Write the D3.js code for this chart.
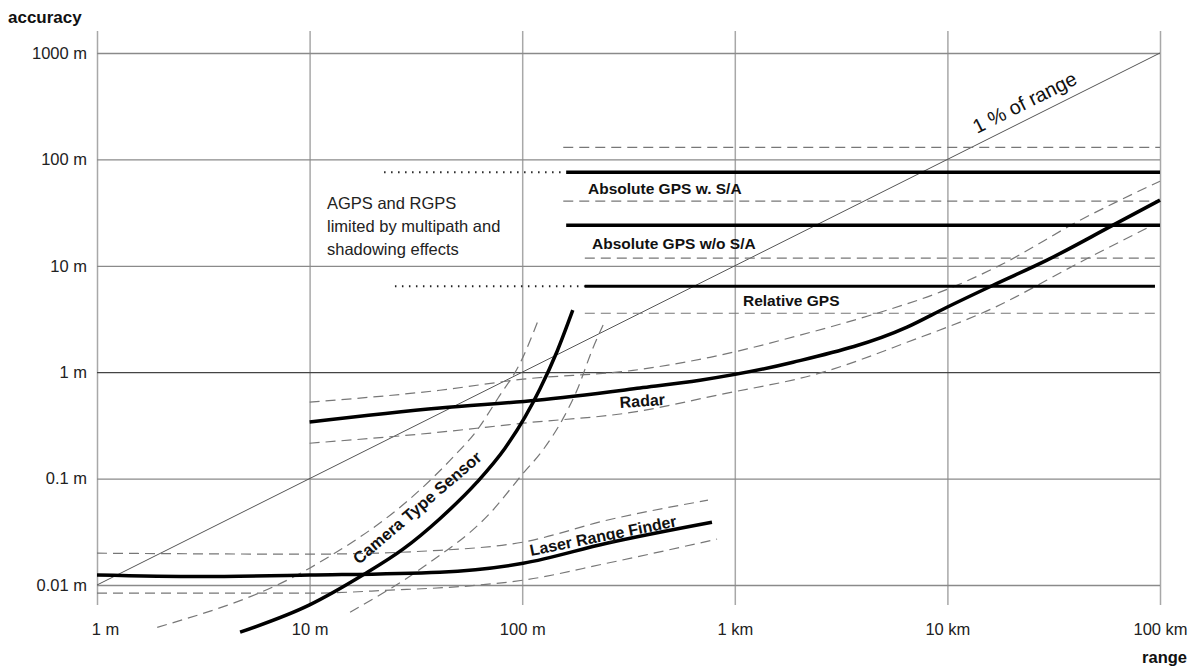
<!DOCTYPE html>
<html>
<head>
<meta charset="utf-8">
<script src="https://cdn.jsdelivr.net/npm/d3@7"></script>
<style>
  body { margin: 0; background: #fff; }
  svg { font-family: "Liberation Sans", Arial, sans-serif; }
</style>
</head>
<body>
<svg id="chart" width="1192" height="668"></svg>
<script>
// axis ticks
const rangeTicks = [1, 10, 100, 1000, 10000, 100000];
const rangeLabels = ["1 m", "10 m", "100 m", "1 km", "10 km", "100 km"];
const accTicks = [0.01, 0.1, 1, 10, 100, 1000];
const accLabels = ["0.01 m", "0.1 m", "1 m", "10 m", "100 m", "1000 m"];

// [range (m), accuracy (m)]
const onePercent = [[1, 0.01], [100000, 1000]];

const radar = [[10, 0.34], [41, 0.46], [117, 0.545], [358, 0.71], [686, 0.84], [1880, 1.24],
  [6460, 2.65], [9950, 4.08], [16390, 6.57], [29410, 11.3], [60120, 24.1], [100000, 41.4]];
const radarHigh = [[10, 0.523], [41, 0.677], [101, 0.86], [332, 1.04], [764, 1.38], [2027, 2.23],
  [5200, 3.83], [9230, 5.65], [17660, 10.1], [42060, 26.8], [100000, 62.4]];
const radarLow = [[10, 0.215], [41, 0.273], [101, 0.332], [332, 0.421], [825, 0.608], [2600, 1.0],
  [6460, 1.91], [16390, 4.0], [42060, 10.8], [86900, 22.6]];

const camera = [[4.71, 0.0036], [10, 0.0065], [17.8, 0.0124], [27.5, 0.0217], [41, 0.042],
  [61.3, 0.0925], [83, 0.193], [103, 0.378], [121, 0.692], [146, 1.575], [173, 3.83]];
const cameraHigh = [[1.92, 0.004], [10, 0.0144], [34.1, 0.083], [47.3, 0.159], [61.3, 0.285],
  [76.9, 0.569], [97.7, 1.215], [120, 3.22]];
const cameraLow = [[15.5, 0.00555], [34.1, 0.0147], [70.6, 0.0473], [101, 0.112], [125, 0.185],
  [156, 0.37], [181, 0.677], [215, 1.68], [240, 2.77]];

const laser = [[1, 0.0124], [3.05, 0.012], [10, 0.0124], [41, 0.0132], [101, 0.016], [250, 0.0247], [781, 0.0389]];
const laserHigh = [[1, 0.0199], [10, 0.0195], [41, 0.0212], [101, 0.0253], [250, 0.0406], [748, 0.0627]];
const laserLow = [[1, 0.00838], [10, 0.00838], [23.9, 0.00894], [63.3, 0.01], [101, 0.0111], [250, 0.016], [825, 0.027]];

// GPS levels
const gpsSA = [[161, 75.8], [100000, 75.8]];
const gpsSAdots = [[22.4, 75.8], [161, 75.8]];
const gpsNoSA = [[161, 24.1], [100000, 24.1]];
const gpsRel = [[197, 6.43], [94700, 6.43]];
const gpsReldots = [[25.2, 6.43], [197, 6.43]];
const gpsBands = [
  [[156, 130], [100000, 130]],
  [[156, 40.5], [100000, 40.5]],
  [[197, 11.8], [100000, 11.8]],
  [[197, 3.58], [100000, 3.58]]
];

const svg = d3.select("#chart");

const x = d3.scaleLog().domain([1, 100000]).range([97, 1160]);
const y = d3.scaleLog().domain([0.01, 1000]).range([585, 53]);

// vertical grid + range labels
const xAxis = svg.append("g")
  .attr("transform", "translate(0,605)")
  .call(d3.axisBottom(x).tickValues(rangeTicks)
    .tickFormat((d, i) => rangeLabels[i])
    .tickSize(-574).tickPadding(18));
xAxis.select(".domain").remove();
xAxis.selectAll("line").attr("stroke", "#a8a8a8").attr("stroke-width", 1.5);
xAxis.selectAll("text")
  .attr("font-size", 16.5).attr("fill", "#222")
  .attr("font-family", "Liberation Sans, Arial, sans-serif");
xAxis.selectAll("text").filter((d) => d === 1).attr("dx", 8);

// horizontal grid + accuracy labels
const yAxis = svg.append("g")
  .attr("transform", "translate(97,0)")
  .call(d3.axisLeft(y).tickValues(accTicks)
    .tickFormat((d, i) => accLabels[i])
    .tickSize(-1063).tickPadding(10));
yAxis.select(".domain").remove();
yAxis.selectAll("line")
  .attr("stroke", (d) => (d === 1 ? "#444" : "#8a8a8a"))
  .attr("stroke-width", 1.3);
yAxis.selectAll("text")
  .attr("font-size", 16.5).attr("fill", "#222")
  .attr("font-family", "Liberation Sans, Arial, sans-serif");

// axis titles
svg.append("text").attr("x", 8).attr("y", 23)
  .attr("font-size", 17).attr("font-weight", "bold").attr("fill", "#111")
  .text("accuracy");
svg.append("text").attr("x", 1187).attr("y", 663).attr("text-anchor", "end")
  .attr("font-size", 16.5).attr("font-weight", "bold").attr("fill", "#111")
  .text("range");

const straight = d3.line().x((d) => x(d[0])).y((d) => y(d[1]));
const curve = d3.line().x((d) => x(d[0])).y((d) => y(d[1])).curve(d3.curveMonotoneX);

function draw(data, gen, style) {
  svg.append("path")
    .datum(data)
    .attr("d", gen)
    .attr("fill", "none")
    .attr("stroke", style.color)
    .attr("stroke-width", style.width)
    .attr("stroke-dasharray", style.dash || null);
}

const thin = { color: "#555", width: 1 };
const dashed = { color: "#777", width: 1.2, dash: "10,6" };
const dotted = { color: "#222", width: 2, dash: "1.5,5.5" };
const thick = { color: "#000", width: 3.5 };

// 1 % of range
draw(onePercent, straight, thin);

// dashed bands
gpsBands.forEach((b) => draw(b, straight, dashed));
[radarHigh, radarLow, cameraHigh, cameraLow, laserHigh, laserLow].forEach((s) => draw(s, curve, dashed));

// dotted extensions
draw(gpsSAdots, straight, dotted);
draw(gpsReldots, straight, dotted);

// main curves
[gpsSA, gpsNoSA].forEach((s) => draw(s, straight, thick));
draw(gpsRel, straight, { color: "#000", width: 3 });
[radar, camera, laser].forEach((s) => draw(s, curve, thick));

// labels
function label(txt, px, py, angle, opts) {
  svg.append("text")
    .attr("transform", `translate(${px},${py}) rotate(${angle})`)
    .attr("font-size", opts.size)
    .attr("font-weight", opts.bold ? "bold" : "normal")
    .attr("fill", "#111")
    .text(txt);
}

label("1 % of range", 977, 134, -26.6, { size: 20 });
label("Absolute GPS w. S/A", 588, 194, 0, { size: 15.5, bold: true });
label("Absolute GPS w/o S/A", 592, 249, 0, { size: 15.5, bold: true });
label("Relative GPS", 743, 306, 0, { size: 15.5, bold: true });
label("Radar", 620, 408, -4, { size: 16, bold: true });
label("Camera Type Sensor", 359, 565, -40.5, { size: 16.5, bold: true });
label("Laser Range Finder", 531, 556, -11.5, { size: 16, bold: true });

const note = svg.append("text").attr("x", 327).attr("font-size", 16.5).attr("fill", "#222");
["AGPS and RGPS", "limited by multipath and", "shadowing effects"].forEach((t, i) => {
  note.append("tspan").attr("x", 327).attr("y", 209 + i * 23).text(t);
});
</script>
</body>
</html>
